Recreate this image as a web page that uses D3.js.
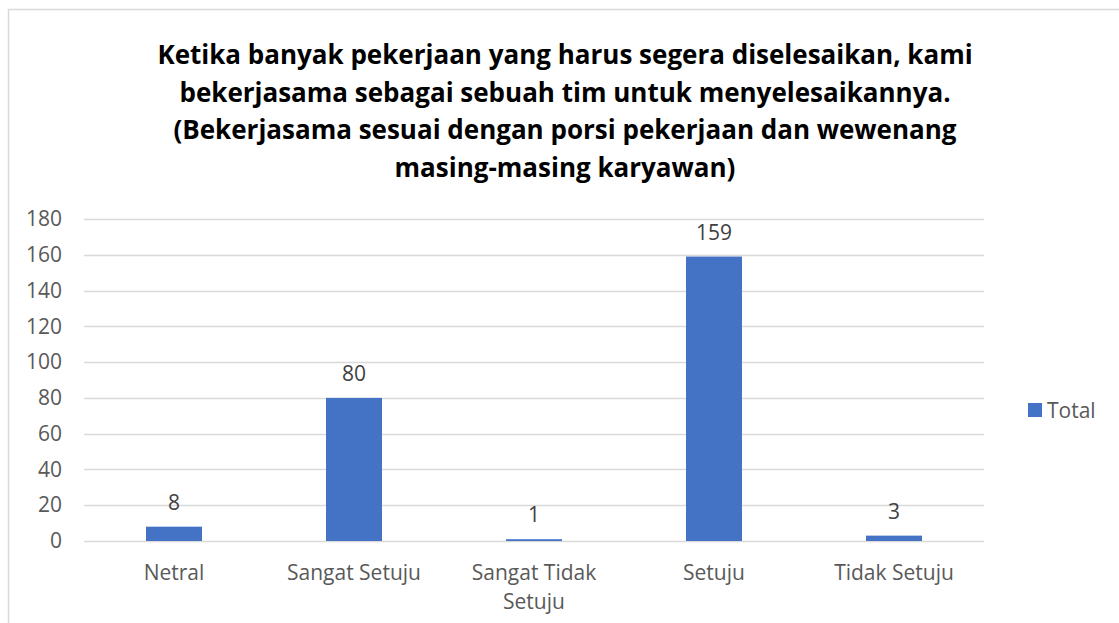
<!DOCTYPE html>
<html>
<head>
<meta charset="utf-8">
<script src="https://cdn.jsdelivr.net/npm/d3@7"></script>
<style>
  body { margin: 0; background: #fff; }
  text { font-family: "Open Sans", "Noto Sans", sans-serif; }
</style>
</head>
<body>
<div id="chart"></div>
<script>
const categories = [['Netral'], ['Sangat Setuju'], ['Sangat Tidak', 'Setuju'], ['Setuju'], ['Tidak Setuju']]
const values = [8, 80, 1, 159, 3]
const yTicks = [0, 20, 40, 60, 80, 100, 120, 140, 160, 180]
const titleLines = [
  'Ketika banyak pekerjaan yang harus segera diselesaikan, kami',
  'bekerjasama sebagai sebuah tim untuk menyelesaikannya.',
  '(Bekerjasama sesuai dengan porsi pekerjaan dan wewenang',
  'masing-masing karyawan)'
]
const seriesName = 'Total'

const W = 1119, H = 623
const margin = { top: 219, left: 84, right: 135, bottom: 82 }
const width = W - margin.left - margin.right
const height = H - margin.top - margin.bottom

const svg = d3.select('#chart').append('svg')
  .attr('width', W).attr('height', H)

// outer chart border
svg.append('rect')
  .attr('x', 8.5).attr('y', 9.5)
  .attr('width', W + 10).attr('height', H + 10)
  .attr('fill', 'none').attr('stroke', '#d9d9d9').attr('stroke-width', 1.5)

// title
svg.append('g').selectAll('text')
  .data(titleLines)
  .enter().append('text')
  .attr('x', 565)
  .attr('y', (d, i) => 64 + i * 37.5)
  .attr('text-anchor', 'middle')
  .attr('font-size', 26)
  .attr('font-weight', 'bold')
  .attr('fill', '#000')
  .text(d => d)

const g = svg.append('g')
  .attr('transform', 'translate(' + margin.left + ',' + margin.top + ')')

const x = d3.scaleBand()
  .domain(d3.range(categories.length))
  .range([0, width])
  .paddingInner(0.689)
  .paddingOuter(0.3445)

const y = d3.scaleLinear().domain([0, 180]).range([height, 0])

// gridlines
g.selectAll('.grid')
  .data(yTicks)
  .enter().append('line')
  .attr('x1', 0).attr('x2', width)
  .attr('y1', d => Math.round(y(d)) + 0.5).attr('y2', d => Math.round(y(d)) + 0.5)
  .attr('stroke', '#d9d9d9').attr('stroke-width', 1.5)

// y axis labels
const yAxis = g.append('g').call(d3.axisLeft(y).tickValues(yTicks).tickSize(0).tickPadding(22))
yAxis.select('.domain').remove()
yAxis.selectAll('text').attr('font-size', 21).attr('fill', '#595959')
  .attr('font-family', '"Open Sans", sans-serif')

// bars
g.selectAll('.bar')
  .data(values)
  .enter().append('rect')
  .attr('x', (d, i) => x(i))
  .attr('y', d => y(d))
  .attr('width', x.bandwidth())
  .attr('height', d => height - y(d))
  .attr('fill', '#4472c4')

// value labels
g.selectAll('.val')
  .data(values)
  .enter().append('text')
  .attr('x', (d, i) => x(i) + x.bandwidth() / 2)
  .attr('y', d => y(d) - 17)
  .attr('text-anchor', 'middle')
  .attr('font-size', 21)
  .attr('fill', '#404040')
  .text(d => d)

// category labels
const cat = g.selectAll('.cat')
  .data(categories)
  .enter().append('text')
  .attr('x', (d, i) => x(i) + x.bandwidth() / 2)
  .attr('y', height + 39)
  .attr('text-anchor', 'middle')
  .attr('font-size', 21)
  .attr('fill', '#595959')
cat.selectAll('tspan')
  .data(d => d)
  .enter().append('tspan')
  .attr('x', function () { return d3.select(this.parentNode).attr('x') })
  .attr('dy', (d, i) => i === 0 ? 0 : 29)
  .text(d => d)

// legend
const legend = svg.append('g').attr('transform', 'translate(1028,403)')
legend.append('rect').attr('width', 14).attr('height', 14).attr('fill', '#4472c4')
legend.append('text').attr('x', 19).attr('y', 15)
  .attr('font-size', 21).attr('fill', '#595959').text(seriesName)
</script>
</body>
</html>
